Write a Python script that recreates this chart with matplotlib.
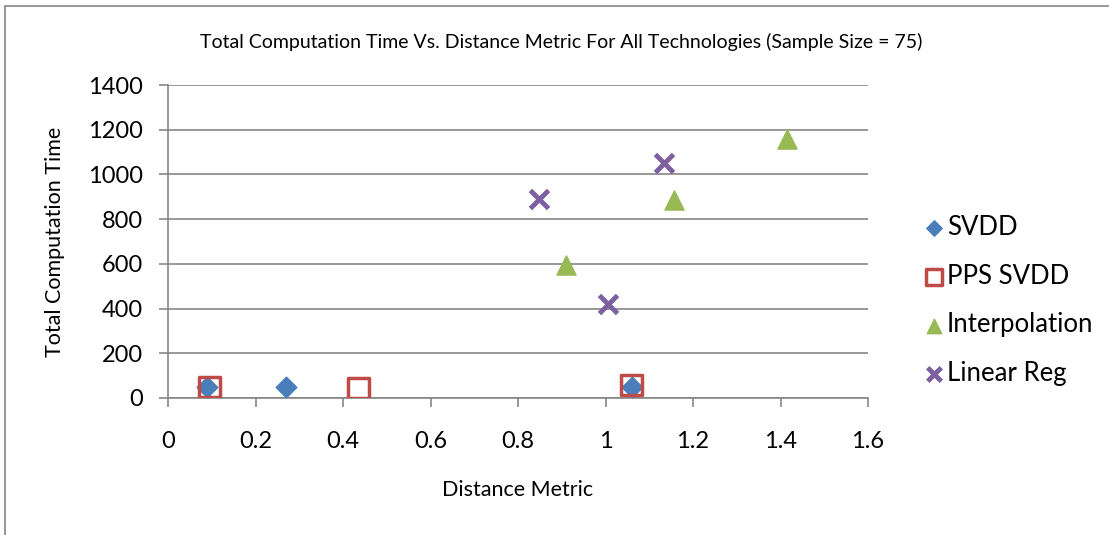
import matplotlib.pyplot as plt
from matplotlib.patches import Rectangle

plt.rcParams['font.family'] = ['Lato', 'DejaVu Sans']

svdd_x = [0.09, 0.27, 1.06]
svdd_y = [50, 50, 50]
pps_x = [0.095, 0.435, 1.06]
pps_y = [50, 45, 58]
interp_x = [0.91, 1.157, 1.415]
interp_y = [595, 885, 1158]
linreg_x = [0.848, 1.006, 1.134]
linreg_y = [890, 420, 1051]

fig = plt.figure(figsize=(11.09, 5.35), dpi=100)
# outer chart border (runs off the right and bottom edges)
fig.patches.append(Rectangle((5 / 1109, -0.1), 1.2, 1.1 - 6 / 535, transform=fig.transFigure,
                             fill=False, edgecolor='#868686', linewidth=1.2))
ax = fig.add_axes([168 / 1109, 1 - 398 / 535, 700 / 1109, 313 / 535])

ax.scatter(svdd_x, svdd_y, marker='D', s=110, color='#4a7ebb', label='SVDD', zorder=3)
ax.scatter(pps_x, pps_y, marker='s', s=220, facecolors='none', edgecolors='#be4b48',
           linewidths=2.5, label='PPS SVDD', zorder=4)
ax.scatter(interp_x, interp_y, marker='^', s=190, color='#98b954', label='Interpolation', zorder=3)
ax.scatter(linreg_x, linreg_y, marker='x', s=170, color='#7d60a0', linewidths=3.5,
           label='Linear Reg', zorder=3)

ax.set_xlim(0, 1.6)
ax.set_ylim(0, 1400)
ax.set_xticks([0, 0.2, 0.4, 0.6, 0.8, 1, 1.2, 1.4, 1.6])
ax.set_xticklabels(['0', '0.2', '0.4', '0.6', '0.8', '1', '1.2', '1.4', '1.6'])
ax.set_yticks(range(0, 1401, 200))
ax.grid(axis='y', color='#868686', linewidth=1.2)
ax.set_axisbelow(True)
for side in ['top', 'right']:
    ax.spines[side].set_visible(False)
for side in ['left', 'bottom']:
    ax.spines[side].set_color('#868686')
    ax.spines[side].set_linewidth(1.2)
ax.tick_params(axis='both', colors='#868686', length=6.5, width=1.2, labelsize=17,
               labelcolor='black')
ax.tick_params(axis='y', pad=11.5)
ax.tick_params(axis='x', pad=17)

ax.set_xlabel('Distance Metric', fontsize=15.5)
ax.set_ylabel('Total Computation Time', fontsize=15.5)
ax.xaxis.set_label_coords(0.5, (398 - 490) / 313, transform=ax.transAxes)
ax.xaxis.label.set_va('center')
ax.yaxis.set_label_coords((55 - 168) / 700, 0.5, transform=ax.transAxes)
ax.yaxis.label.set_va('center')
fig.text(561 / 1109, 1 - 42 / 535, 'Total Computation Time Vs. Distance Metric For All Technologies (Sample Size = 75)',
         ha='center', va='center', fontsize=14)

ax.legend(loc='upper left', bbox_to_anchor=(903 / 1109, 1 - 197 / 535), bbox_transform=fig.transFigure,
          frameon=False, fontsize=18.5, handletextpad=0.0, labelspacing=0.92, handlelength=1.0,
          markerscale=0.75, borderpad=0.2)

fig.savefig('out.png', dpi=100)
